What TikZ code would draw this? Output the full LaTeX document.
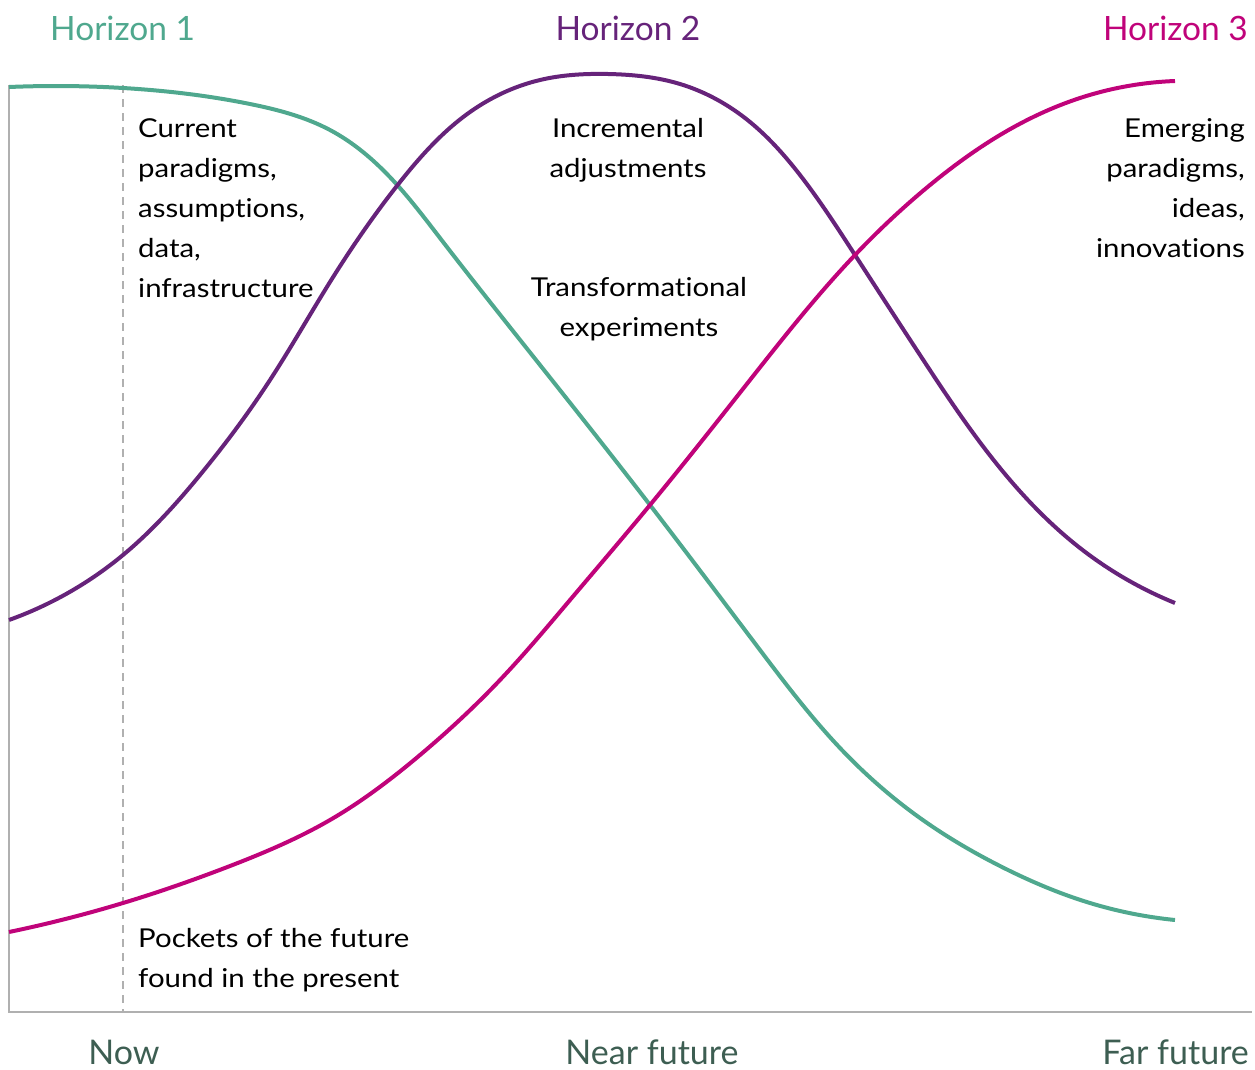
\documentclass[tikz,border=0pt]{standalone}
\usepackage{fontspec}
\setmainfont{Lato}[Ligatures={NoCommon}]
\newfontfamily\bodyfont{Lato}[FakeStretch=1.13, Ligatures={NoCommon}]
\usetikzlibrary{hobby}
\definecolor{hgreen}{HTML}{4FA88E}
\definecolor{hpurple}{HTML}{66237A}
\definecolor{hmagenta}{HTML}{C0037A}
\definecolor{axlabel}{HTML}{3D5E52}
\definecolor{axgray}{HTML}{B0B0B0}
\begin{document}
\begin{tikzpicture}[x=1bp,y=-1bp,
  curve/.style={line width=4bp, line cap=butt, use Hobby shortcut},
  body/.style={inner sep=0pt, font=\bodyfont\fontsize{26bp}{40bp}\selectfont, text=black},
  horizon/.style={inner sep=0pt, anchor=base, font=\fontsize{33.5bp}{38bp}\selectfont},
  axislabel/.style={inner sep=0pt, anchor=base, text depth=0pt, font=\fontsize{34bp}{40bp}\selectfont, text=axlabel}]
\useasboundingbox (0,0) rectangle (1255,1070);
% axes
\coordinate (top) at (9,85);
\coordinate (origin) at (9,1012);
\coordinate (xend) at (1252,1012);
\coordinate (nowtop) at (123,85);
\coordinate (nowbot) at (123,1012);
\draw[axgray, line width=1.8bp] (top) -- (origin) -- (xend);
\draw[axgray, line width=1.5bp, dash pattern=on 8bp off 6bp] (nowtop) -- (nowbot);
% curves
\draw[curve, hgreen] (9,87) .. (123,88) .. (250,104) .. (330,130) .. (385,172)
  .. (440,238) .. (540,365) .. (650,505) .. (760,650) .. (840,748)
  .. (920,818) .. (1000,866) .. (1090,903) .. (1175,920);
\draw[curve, hpurple] (9,620) .. (123,555) .. (200,475) .. (270,380)
  .. (330,282) .. (400,182) .. (470,112) .. (540,80) .. (608,74)
  .. (680,84) .. (745,118) .. (800,175) .. (855,255) .. (920,355)
  .. (1000,468) .. (1080,548) .. (1175,603);
\draw[curve, hmagenta] (9,932) .. (123,903) .. (230,866) .. (330,820)
  .. (420,755) .. (500,680) .. (570,600) .. (650,505) .. (750,380)
  .. (855,255) .. (930,185) .. (1000,135) .. (1080,98) .. (1175,81);
% horizon titles
\node[horizon, text=hgreen, anchor=base west] (h1) at (50,40) {Horizon 1};
\node[horizon, text=hpurple] (h2) at (628,40) {Horizon 2};
\node[horizon, text=hmagenta, anchor=base east] (h3) at (1248,40) {Horizon 3};
% body texts
\node[body, anchor=north west, align=left] (cur) at (138,118)
  {Current\\paradigms,\\assumptions,\\data,\\infrastructure};
\node[body, anchor=north, align=center] (inc) at (628,118)
  {Incremental\\adjustments};
\node[body, anchor=north, align=center] (tra) at (639,277)
  {Transformational\\experiments};
\node[body, anchor=north east, align=right] (emg) at (1245,118)
  {Emerging\\paradigms,\\ideas,\\innovations};
\node[body, anchor=north west, align=left] (poc) at (138,928)
  {Pockets of the future\\found in the present};
% axis labels
\node[axislabel] (now) at (124,1064) {Now};
\node[axislabel] (near) at (652,1064) {Near future};
\node[axislabel, anchor=base east] (far) at (1249,1064) {Far future};
\end{tikzpicture}
\end{document}
